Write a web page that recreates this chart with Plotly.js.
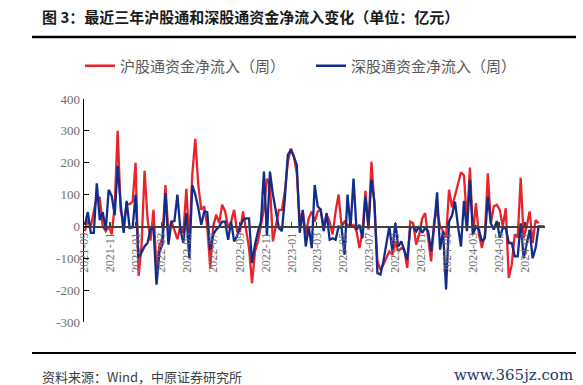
<!DOCTYPE html>
<html>
<head>
<meta charset="utf-8">
<script src="https://cdn.plot.ly/plotly-3.0.1.min.js"></script>
<style>
html,body{margin:0;padding:0;background:#fff;}
#chart{width:583px;height:385px;}
</style>
</head>
<body>
<div id="chart"></div>
<script>
// ---- data ----
const startDate = '2021-09-03';   // first weekly observation
const seriesNames = ['沪股通资金净流入（周）', '深股通资金净流入（周）'];
const shWeekly = [
  -15,20,0,50,95,90,0,-15,0,-25,65,300,50,10,70,70,78,200,-155,-60,175,25,-45,52,-135,-60,-35,130,-25,17,-15,-40,0,-20,118,-50,165,275,130,
  52,63,0,-130,0,37,10,68,47,-5,15,52,-15,-15,47,-10,-68,-178,-78,-47,5,57,150,130,-47,0,52,52,110,203,245,220,167,15,47,-25,25,47,15,
  47,52,0,37,15,-25,47,100,0,15,5,0,5,-15,-68,-15,112,-10,203,68,-110,-136,-120,-100,-78,-89,-47,-78,-68,-73,-130,15,10,-57,-25,25,42,-37,
  -110,15,52,0,-15,-35,115,60,95,135,170,160,15,185,-25,73,-25,-68,-25,167,10,63,68,52,0,57,-162,-120,-25,-35,153,-37,0,47,-52,20,10
];
const szWeekly = [
  5,45,-20,-20,135,20,45,-10,115,95,35,190,70,-20,80,-5,-3,100,-100,-80,-63,-52,-10,-5,-183,-80,-57,105,-57,15,17,100,-10,-52,42,-100,130,100,58,
  5,47,45,-78,-25,-10,0,15,15,-42,15,-47,-30,0,20,25,25,-115,-57,-15,15,172,-30,172,100,47,-5,-15,88,225,240,220,193,-20,52,-63,0,-68,130,
  63,52,-15,42,-42,-37,-42,0,-5,-89,100,-5,150,-10,5,-37,94,0,146,78,-146,-151,-110,-47,0,-78,10,-63,-47,-75,-105,-5,0,-15,0,-20,-5,-15,
  -78,0,107,-73,-15,-198,15,35,78,0,-63,80,-15,146,-25,0,-10,-47,-37,94,10,-10,17,-35,-5,-5,-52,-52,-94,-94,10,-100,-52,-10,-100,-68,0,0,0
];
const yTickVals = [-300,-200,-100,0,100,200,300,400];
const yTickText = ['-300','-200','-100','0','100','200','300','400'];
const titleText = '图 3：最近三年沪股通和深股通资金净流入变化（单位：亿元）';
const sourceText = '资料来源：Wind，中原证券研究所';
const watermarkText = 'www.365jz.com';

// weekly dates (category axis values)
const dates = [];
{
  const d0 = new Date(startDate + 'T00:00:00Z');
  const n = Math.max(shWeekly.length, szWeekly.length);
  for (let i = 0; i < n; i++) {
    const d = new Date(d0.getTime() + i * 7 * 86400000);
    dates.push(d.toISOString().slice(0, 10));
  }
}

// ---- layout helpers (pixel -> paper) ----
const W = 583, H = 385;
const M = {l: 84, r: 38, t: 99, b: 63};
const PW = W - M.l - M.r, PH = H - M.t - M.b;
const px = x => (x - M.l) / PW;
const py = y => (H - M.b - y) / PH;

const traces = [
  {x: dates.slice(0, shWeekly.length), y: shWeekly, name: seriesNames[0], type: 'scatter', mode: 'lines',
   line: {color: '#e8232a', width: 2.3}},
  {x: dates.slice(0, szWeekly.length), y: szWeekly, name: seriesNames[1], type: 'scatter', mode: 'lines',
   line: {color: '#122c8a', width: 2.3}}
];

const serif = 'Liberation Serif, Times New Roman, serif';
const cjk = 'Noto Sans CJK SC, sans-serif';

const layout = {
  width: W, height: H,
  margin: M,
  paper_bgcolor: '#fff', plot_bgcolor: 'rgba(0,0,0,0)',
  showlegend: true,
  legend: {
    orientation: 'h', x: px(80), xanchor: 'left', y: py(66), yanchor: 'middle',
    font: {family: cjk, size: 15, color: '#595959'},
    bgcolor: 'rgba(0,0,0,0)', itemwidth: 30,
    entrywidth: 186, entrywidthmode: 'pixels'
  },
  xaxis: {
    type: 'date', range: ['2021-09-01', '2024-08-17'],
    tick0: '2021-09-01', dtick: 'M2', tickformat: '%Y-%m', tickmode: 'linear',
    tickangle: -90,
    anchor: 'free', position: 300 / 700,
    showline: true, linecolor: '#404040', linewidth: 1.5,
    ticks: 'inside', ticklen: 4, tickcolor: '#404040', tickwidth: 1.2,
    showgrid: false, zeroline: false,
    tickfont: {family: serif, size: 12, color: '#707070'}
  },
  yaxis: {
    range: [-300, 400], tickmode: 'array', tickvals: yTickVals, ticktext: yTickText,
    showline: true, linecolor: '#000', linewidth: 1.5,
    ticks: 'inside', ticklen: 5, tickcolor: '#000', tickwidth: 1.2,
    showgrid: false, zeroline: false,
    tickfont: {family: serif, size: 13, color: '#707070'}
  },
  shapes: [
    {type: 'line', xref: 'paper', yref: 'paper', x0: px(32), x1: px(576), y0: py(37), y1: py(37),
     line: {color: '#000', width: 2.5}},
    {type: 'line', xref: 'paper', yref: 'paper', x0: px(32), x1: px(576), y0: py(353), y1: py(353),
     line: {color: '#000', width: 2}}
  ],
  annotations: [
    {text: '<b>' + titleText + '</b>', xref: 'paper', yref: 'paper', x: px(40), y: py(16), xanchor: 'left', yanchor: 'middle',
     showarrow: false, font: {family: cjk, size: 15, color: '#1a1a1a'}},
    {text: sourceText, xref: 'paper', yref: 'paper', x: px(40), y: py(376), xanchor: 'left', yanchor: 'middle',
     showarrow: false, font: {family: cjk, size: 13, color: '#404040'}},
    {text: watermarkText, xref: 'paper', yref: 'paper', x: px(575), y: py(375), xanchor: 'right', yanchor: 'middle',
     showarrow: false, font: {family: 'DejaVu Serif, serif', size: 15, color: '#1f3864'}}
  ]
};

Plotly.newPlot('chart', traces, layout, {staticPlot: true, displayModeBar: false});
</script>
</body>
</html>
